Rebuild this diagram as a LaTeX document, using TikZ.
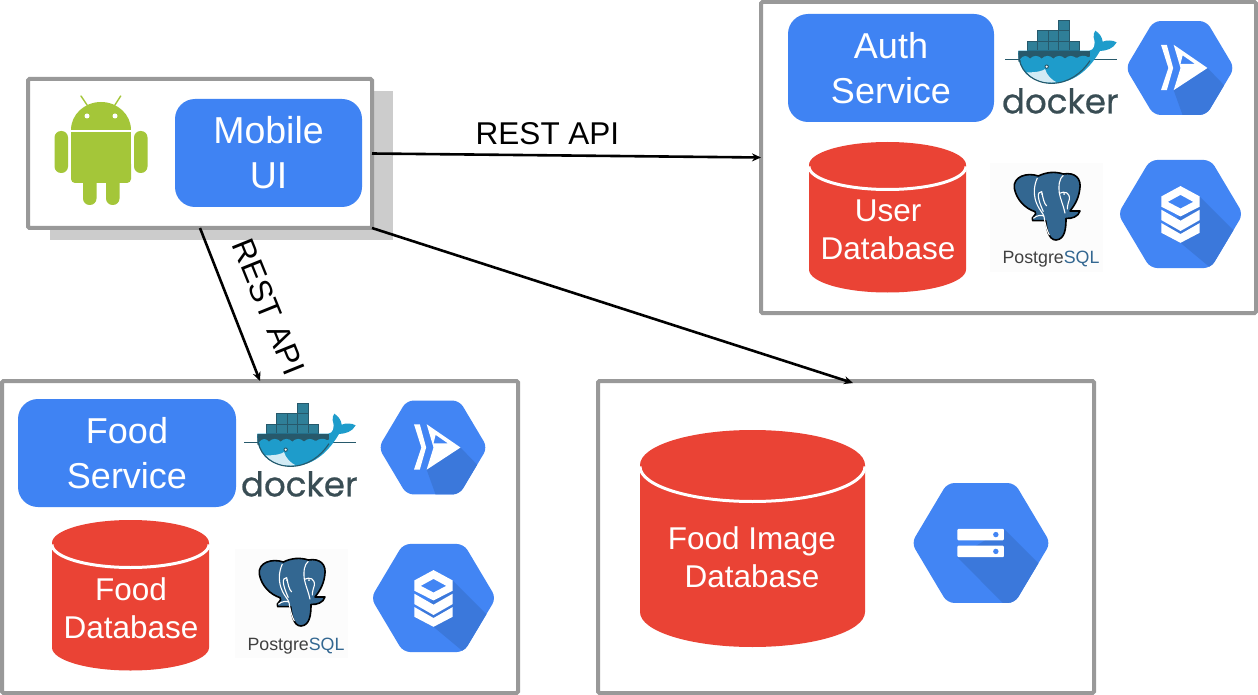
\documentclass[tikz,border=0pt]{standalone}
\usepackage{fontspec}
\setmainfont{Liberation Sans}
\newfontfamily\dockerfont[FakeBold=0.6]{Poppins}
\usetikzlibrary{arrows.meta,calc}
\definecolor{panelgrey}{HTML}{999999}
\definecolor{shadowgrey}{HTML}{CCCCCC}
\definecolor{uiblue}{HTML}{3F83F3}
\definecolor{hexblue}{HTML}{4285F4}
\definecolor{hexdark}{HTML}{3B78DB}
\definecolor{dbred}{HTML}{EA4335}
\definecolor{droid}{HTML}{A4C639}
\definecolor{dkteal}{HTML}{2F7F98}
\definecolor{dkline}{HTML}{27596B}
\definecolor{dkblue}{HTML}{1E9CCB}
\definecolor{dktext}{HTML}{394D54}
\definecolor{pgblue}{HTML}{336791}
\newcommand{\hexshape}{(-103,0) -- (-50,-89) -- (50,-89) -- (103,0) -- (50,89) -- (-50,89) -- cycle}
\newcommand{\dbcyl}[6]{% name, cx, top, bottom, rx, ry
  \fill[dbred] (#2-#5,#3+#6) arc[start angle=180,end angle=360,x radius=#5,y radius=#6]
     -- (#2+#5,#4-#6) arc[start angle=0,end angle=180,x radius=#5,y radius=#6] -- cycle;
  \draw[white,line width=3pt] (#2-#5,#3+#6+1.5) arc[start angle=180,end angle=0,x radius=#5,y radius=#6];
}
\tikzset{
  panel/.style={draw=panelgrey,line width=4pt,fill=white,rounded corners=1.5pt,outer sep=0pt,inner sep=0pt},
  svc/.style={fill=uiblue,rounded corners=20pt,text=white,align=center,outer sep=0pt,inner sep=0pt,font=\fontsize{36}{45}\selectfont},
  dblabel/.style={text=white,align=center,inner sep=0pt,font=\fontsize{31.5}{38.5}\selectfont},
  link/.style={draw=black,line width=2.6pt,-{Stealth[length=9pt,width=8pt]}},
  linklabel/.style={text=black,inner sep=0pt,font=\fontsize{31.5}{36}\selectfont},
  pics/hexrun/.style={code={
    \fill[hexblue,rounded corners=7pt] \hexshape;
    \begin{scope}
      \clip[rounded corners=7pt] \hexshape;
      \fill[hexdark] (52,0) -- (-12,42) -- (7,95) -- (70,95) -- (110,60) -- cycle;
    \end{scope}
    \fill[white] (-36,-44) -- (-25,-44) -- (-13,0) -- (-25,42) -- (-36,42) -- (-22,0) -- cycle;
    \fill[white,even odd rule] (-12,-44) -- (52,0) -- (-12,42) -- (1,0) -- cycle
       (5,-24) -- (28,-8) -- (1,-8) -- cycle;
  }},
  pics/hexsql/.style={code={
    \fill[hexblue,rounded corners=7pt] \hexshape;
    \begin{scope}
      \clip[rounded corners=7pt] \hexshape;
      \fill[hexdark] (31.5,-29) -- (110,50) -- (110,110) -- (75,110) -- (0,47.5) -- (-31.5,31) -- cycle;
    \end{scope}
    \fill[white,even odd rule] (0,-46) -- (31.5,-29) -- (31.5,-12) -- (0,4) -- (-31.5,-12) -- (-31.5,-29) -- cycle
       (0,-31.5) -- (21,-20) -- (0,-9) -- (-21,-20) -- cycle;
    \fill[white] (-31.5,-7) -- (0,11) -- (31.5,-7) -- (31.5,10) -- (0,28) -- (-31.5,10) -- cycle;
    \fill[white] (-31.5,15) -- (0,33) -- (31.5,15) -- (31.5,31) -- (0,47.5) -- (-31.5,31) -- cycle;
  }},
  pics/hexstore/.style={code={
    \fill[hexblue,rounded corners=7pt] \hexshape;
    \begin{scope}
      \clip[rounded corners=7pt] \hexshape;
      \fill[hexdark] (34,-21) -- (110,55) -- (110,110) -- (53,110) -- (-35,21) -- cycle;
    \end{scope}
    \fill[white,rounded corners=1pt] (-35,-21) rectangle (34,-4);
    \fill[white,rounded corners=1pt] (-35,4) rectangle (34,21);
    \fill[hexblue] (22,-12.5) circle[radius=4];
    \fill[hexblue] (22,12.5) circle[radius=4];
  }},
  pics/dockerlogo/.style={code={
    \draw[dkline,line width=.5pt] (45,177) -- (380,177);
    \foreach \xa in {112,143,175,206,237} \filldraw[fill=dkteal,draw=dkline,line width=.7pt] (\xa,123) rectangle +(31,29);
    \foreach \xa in {143,175,206} \filldraw[fill=dkteal,draw=dkline,line width=.7pt] (\xa,92) rectangle +(31,31);
    \filldraw[fill=dkteal,draw=dkline,line width=.7pt] (204,60) rectangle +(33,32);
    \path[fill=dkblue] (85,152) -- (298,152) .. controls (312,150) and (318,135) .. (311,112)
       .. controls (310,104) and (312,96) .. (316,92) .. controls (328,100) and (336,110) .. (338,125)
       .. controls (350,120) and (368,120) .. (380,127) .. controls (370,146) and (350,152) .. (330,153)
       .. controls (305,195) and (262,250) .. (185,250) .. controls (120,250) and (80,205) .. (85,152) -- cycle;
    \begin{scope}
      \clip (85,152) -- (300,152) -- (300,170) -- (85,185) -- cycle;
      \fill[dkline] (85,152) rectangle (300,185);
    \end{scope}
    \fill[dkblue] (90,178) .. controls (100,165) and (110,165) .. (120,176) .. controls (130,165) and (145,165) .. (155,176) .. controls (165,165) and (180,165) .. (190,176) .. controls (200,165) and (215,165) .. (225,176) .. controls (235,165) and (250,165) .. (260,176) .. controls (270,165) and (285,165) .. (295,172) -- (280,205) -- (100,205) -- cycle;
    \fill[white!80!dkblue] (110,217) .. controls (140,218) and (160,212) .. (165,207) .. controls (170,225) and (185,240) .. (200,247) .. controls (160,252) and (130,240) .. (110,217) -- cycle;
    \draw[dkline,line width=1.1pt] (88,178) .. controls (95,220) and (135,250) .. (185,250) .. controls (235,250) and (275,220) .. (300,182);
    \fill[dkline] (170,200) circle[radius=6.5];
    \fill[white] (170,200) circle[radius=3.5];
    \node[name=dockertxt,anchor=base,inner sep=0pt,text=dktext,font=\dockerfont\fontsize{34}{34}\selectfont] at (211,340) {docker};
  }},
  pics/pglogo/.style={code={
    \fill[black!1] (30,40) rectangle (370,365);
    \path[fill=pgblue,draw=black,line width=1.6pt,line join=round]
      (103,115) .. controls (98,80) and (140,66) .. (175,78)
      .. controls (200,66) and (225,64) .. (250,72)
      .. controls (285,66) and (306,85) .. (299,120)
      .. controls (295,150) and (280,170) .. (270,183)
      -- (300,183) .. controls (295,200) and (275,207) .. (258,205)
      .. controls (258,235) and (255,268) .. (228,270)
      .. controls (205,270) and (200,235) .. (197,212)
      .. controls (185,212) and (170,212) .. (158,212)
      .. controls (150,200) and (175,195) .. (165,185)
      .. controls (135,175) and (110,150) .. (103,115) -- cycle;
    \draw[white,line width=1.1pt] (172,84) .. controls (160,110) and (160,140) .. (172,165)
      .. controls (178,180) and (190,190) .. (192,200) .. controls (195,220) and (200,240) .. (208,255);
    \draw[white,line width=1.1pt] (250,76) .. controls (238,85) and (235,105) .. (238,130)
      .. controls (242,150) and (250,165) .. (255,190);
    \draw[white,line width=1.1pt] (200,168) .. controls (192,160) and (190,148) .. (185,125) .. controls (170,125) and (172,145) .. (190,185);
    \draw[white,line width=1.1pt] (238,130) .. controls (255,122) and (270,128) .. (268,148) .. controls (265,160) and (262,165) .. (262,178);
    \draw[white,line width=1.1pt] (160,205) .. controls (170,195) and (185,195) .. (192,198);
    \fill[white] (186,132) circle[radius=3];
    \fill[white] (252,132) circle[radius=3];
    \node[name=pgtxt,anchor=base,inner sep=0pt,font=\fontsize{17.8}{18}\selectfont] at (213,342) {\textcolor{black!75}{Postgre}\textcolor{pgblue}{SQL}};
  }},
  pics/androidlogo/.style={code={
    \fill[droid] (71,130) arc[start angle=180,end angle=360,x radius=30,y radius=28] -- cycle;
    \fill[droid] (71,132.5) rectangle (131,170);
    \fill[droid,rounded corners=4pt] (71,160) -- (131,160) -- (131,183) -- (71,183) -- cycle;
    \foreach \xa in {54.5,134} \fill[droid,rounded corners=6.5pt] (\xa,131) rectangle +(13.5,42);
    \foreach \xa in {83,106} \fill[droid,rounded corners=6.5pt] (\xa,175) rectangle +(13.5,30);
    \draw[droid,line width=1.4pt,line cap=round] (81,96) -- (87.7,106);
    \draw[droid,line width=1.4pt,line cap=round] (120.7,96) -- (114.3,106);
    \fill[white] (87,116) circle[radius=2.5];
    \fill[white] (115,116) circle[radius=2.5];
  }}
}
\begin{document}
\begin{tikzpicture}[x=1pt,y=-1pt]
\useasboundingbox (0,0) rectangle (1258,695);
\fill[white] (0,0) rectangle (1258,695);
% shadow and panels
\fill[shadowgrey] (50,91) rectangle (393,240);
\node[panel,minimum width=344pt,minimum height=149pt] (mobile) at (200,153.5) {};
\node[panel,minimum width=495pt,minimum height=311pt] (auth) at (1008.5,157.5) {};
\node[panel,minimum width=516pt,minimum height=312pt] (food) at (260,537) {};
\node[panel,minimum width=496pt,minimum height=312pt] (image) at (846,537) {};
% service boxes
\node[svc,font=\fontsize{37.5}{45}\selectfont,minimum width=187pt,minimum height=108pt] (mobileui) at (268.5,153) {Mobile\\UI};
\node[svc,minimum width=206pt,minimum height=108pt] (authsvc) at (891,68) {Auth\\Service};
\node[svc,minimum width=218pt,minimum height=108pt] (foodsvc) at (127,453) {Food\\Service};
% icons
\pic at (0,0) {androidlogo};
\pic[scale=1/3] at (990,0) {dockerlogo};
\pic[scale=1/3] at (229,383) {dockerlogo};
\pic[scale=1/3] at (980,150) {pglogo};
\pic[scale=1/3] at (225,536) {pglogo};
\pic[scale=.528] at (1180,68) {hexrun};
\pic[scale=.528] at (433,447.5) {hexrun};
\pic[scale=.607] at (1180.5,214) {hexsql};
\pic[scale=.607] at (433.5,598) {hexsql};
\pic[scale=.674] at (981,543) {hexstore};
% databases
\dbcyl{userdb}{887.5}{142}{292.5}{78.5}{23}
\dbcyl{fooddb}{130.5}{520}{670.5}{78.5}{23}
\dbcyl{imgdb}{752.5}{430}{647}{112.5}{35}
\node[dblabel] (userlbl) at (888,230) {User\\Database};
\node[dblabel] (foodlbl) at (131,608) {Food\\Database};
\node[dblabel] (imglbl) at (752,557) {Food Image\\Database};
% connectors
\draw[link] (mobile.east) -- (auth.west);
\draw[link] (mobile.south) -- (food.north);
\draw[link] (mobile.south east) -- ($(image.north)+(7,2)$);
\node[linklabel] (rest1) at (547.5,134) {REST API};
\node[linklabel,rotate=-68] (rest2) at (268.5,307) {REST API};
\end{tikzpicture}
\end{document}
